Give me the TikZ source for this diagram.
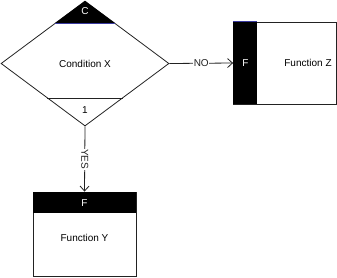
\documentclass[tikz,border=0pt]{standalone}
\usepackage{fontspec}
\setmainfont{Liberation Sans}
\usetikzlibrary{arrows.meta,shapes.geometric}
\definecolor{edgegray}{HTML}{222222}
\definecolor{accentblue}{HTML}{3A3AA0}

\tikzset{
  flowarrow/.style={edgegray, line width=0.8pt, -{Straight Barb[length=5pt,width=9pt]}},
  flowlabel/.style={fill=white, inner sep=0.5pt, font=\fontsize{10}{12}\selectfont},
  funcbox/.style={draw=edgegray, line width=0.8pt, fill=white, inner sep=0pt},
  plain/.style={font=\fontsize{10}{12}\selectfont}
}

\begin{document}
\begin{tikzpicture}[x=1pt, y=-1pt, line width=0.8pt]
  \useasboundingbox (0,0) rectangle (337,277);
  % decision
  \node[diamond, draw=edgegray, inner sep=0pt, minimum width=168pt,
        minimum height=125pt, aspect=1.344] (cond) at (85,63.5) {};
  \fill[black] (85,1) -- (55.2,23) -- (114.8,23) -- cycle;
  \draw[accentblue] (55.2,23) -- (114.8,23);
  \draw[edgegray] (47,98) -- (123,98);
  \node[plain, text=white] (condtag) at (85,11.5) {C};
  \node[plain] (condtext) at (85,63.5) {Condition X};
  \node[plain] (condnum) at (85,110.5) {1};
  % function Z
  \node[funcbox, minimum width=103pt, minimum height=82pt] (funz) at (285,63) {};
  \fill[black] (funz.north west) rectangle ([xshift=24pt]funz.south west);
  \draw[accentblue] (funz.north west) -- ([xshift=24pt]funz.north west);
  \node[plain, text=white] (funztag) at (245.5,63) {F};
  \node[plain] (funztext) at (308,63) {Function Z};
  % function Y
  \node[funcbox, minimum width=103pt, minimum height=84pt] (funy) at (84.5,234) {};
  \fill[black] (funy.north west) rectangle ([yshift=-21pt]funy.north east);
  \node[plain, text=white] (funytag) at (84.5,203) {F};
  \node[plain] (funytext) at (84.5,238) {Function Y};
  % connectors
  \draw[flowarrow] (cond.east) -- node[flowlabel] {NO} (funz.west);
  \draw[flowarrow] (cond.south) -- node[flowlabel, rotate=-90] {YES} (funy.north);
\end{tikzpicture}
\end{document}
